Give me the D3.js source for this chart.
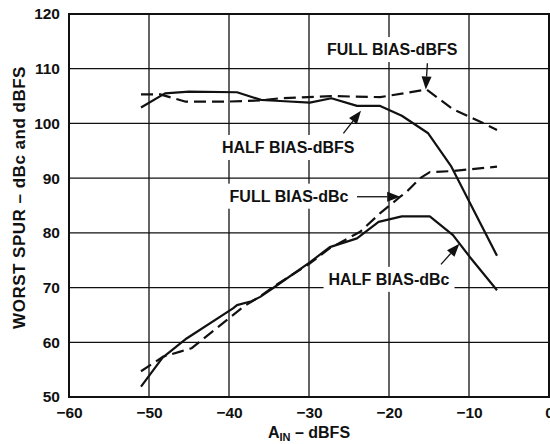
<!DOCTYPE html>
<html><head><meta charset="utf-8">
<script src="https://cdn.jsdelivr.net/npm/d3@7"></script>
<style>
html,body{margin:0;padding:0;background:#fff;}
svg{display:block;}
text{font-family:"Liberation Sans",Arial,Helvetica,sans-serif;font-weight:bold;fill:#111;}
</style></head>
<body>
<svg id="chart" width="550" height="444"></svg>
<script>
// ---- data ----
const xTicks = [-60, -50, -40, -30, -20, -10, 0];
const yTicks = [50, 60, 70, 80, 90, 100, 110, 120];

const halfBiasDbfsX = [-51, -48, -45, -39, -36, -33.6, -29.9, -27.2, -24, -21.1, -18.4, -15.1, -12.2, -6.5];
const halfBiasDbfsY = [102.9, 105.5, 105.8, 105.7, 104.3, 104.1, 103.8, 104.6, 103.2, 103.2, 101.4, 98.2, 92.1, 75.8];

const fullBiasDbfsX = [-51, -48.6, -45.5, -40, -36, -33.6, -27.2, -21.1, -15.3, -12, -9, -6.5];
const fullBiasDbfsY = [105.3, 105.3, 104.0, 104.0, 104.2, 104.6, 105.0, 104.8, 106.2, 102.6, 100.6, 98.8];

const fullBiasDbcX = [-51, -48.2, -46.1, -44.7, -38.2, -36.2, -34.5, -29.9, -27.4, -23.6, -21.1, -18.6, -17.8, -16.1, -14.9, -12, -6.5];
const fullBiasDbcY = [54.7, 57.4, 58.3, 58.9, 66.5, 68.3, 70.1, 74.4, 77.2, 80.2, 83.6, 86.6, 87.5, 90.0, 91.1, 91.3, 92.1];

const halfBiasDbcX = [-51, -48.3, -45.3, -39.5, -39, -37.2, -36.1, -34.3, -29.9, -27.4, -24, -21.3, -18.4, -14.9, -12, -9.9, -6.5];
const halfBiasDbcY = [51.9, 57.2, 60.7, 66.2, 66.8, 67.5, 68.3, 70.1, 74.6, 77.4, 79.0, 82.0, 83.0, 83.0, 79.6, 75.6, 69.5];

const labelTexts = ["FULL BIAS-dBFS", "HALF BIAS-dBFS", "FULL BIAS-dBc", "HALF BIAS-dBc"];
const labelX = [-19.6, -32.6, -32.5, -20];
const labelY = [112.5, 94.6, 85.7, 70.5];
const arrowFromX = [-15.2, -25.7, -24.0, -13.5];
const arrowFromY = [111.0, 98.2, 86.6, 74.25];
const arrowToX = [-15.4, -23.5, -18.6, -11.2];
const arrowToY = [106.2, 102.3, 86.6, 78.0];

// ---- layout ----
const W = 550, H = 444;
const m = {left: 69, right: 1, top: 14, bottom: 47};
const svg = d3.select("#chart");
const x = d3.scaleLinear().domain([-60, 0]).range([m.left, W - m.right]);
const y = d3.scaleLinear().domain([50, 120]).range([H - m.bottom, m.top]);

// grid
const g = svg.append("g");
g.selectAll("line.v").data(xTicks.slice(1, -1)).join("line")
  .attr("x1", d => x(d)).attr("x2", d => x(d))
  .attr("y1", y(50)).attr("y2", y(120))
  .attr("stroke", "#111").attr("stroke-width", 1.3);
g.selectAll("line.h").data(yTicks.slice(1, -1)).join("line")
  .attr("y1", d => y(d)).attr("y2", d => y(d))
  .attr("x1", x(-60)).attr("x2", x(0))
  .attr("stroke", "#111").attr("stroke-width", 1.3);

// axes (labels only)
const xAxis = d3.axisBottom(x).tickValues(xTicks).tickSize(0).tickPadding(10)
  .tickFormat(d => d < 0 ? "\u2212" + Math.abs(d) : d);
const xa = svg.append("g").attr("transform", `translate(0,${y(50)})`).call(xAxis);
xa.select(".domain").remove();
xa.selectAll("text").attr("font-size", 15.5).attr("fill", "#111").attr("font-family", null);

const yAxis = d3.axisLeft(y).tickValues(yTicks).tickSize(0).tickPadding(9);
const ya = svg.append("g").attr("transform", `translate(${x(-60)},0)`).call(yAxis);
ya.select(".domain").remove();
ya.selectAll("text").attr("font-size", 15.5).attr("fill", "#111").attr("font-family", null);

// label backgrounds + labels
const lab = svg.append("g");
labelTexts.forEach((t, i) => {
  const tx = lab.append("text").attr("x", x(labelX[i])).attr("y", y(labelY[i]))
    .attr("text-anchor", "middle").attr("font-size", 16).text(t);
  const bb = tx.node().getBBox();
  lab.insert("rect", "text").attr("x", bb.x - 5).attr("y", bb.y - 4)
    .attr("width", bb.width + 10).attr("height", bb.height + 8).attr("fill", "#fff");
});

// frame
svg.append("rect").attr("x", x(-60)).attr("y", y(120))
  .attr("width", x(0) - x(-60)).attr("height", y(50) - y(120))
  .attr("fill", "none").attr("stroke", "#111").attr("stroke-width", 2);

// curves
const line = d3.line().x(d => x(d[0])).y(d => y(d[1]));
function series(xs, ys) { return xs.map((v, i) => [v, ys[i]]); }
const curves = [
  {d: series(halfBiasDbfsX, halfBiasDbfsY), dash: null},
  {d: series(fullBiasDbfsX, fullBiasDbfsY), dash: "12,6"},
  {d: series(fullBiasDbcX, fullBiasDbcY), dash: "12,6"},
  {d: series(halfBiasDbcX, halfBiasDbcY), dash: null}
];
svg.append("g").selectAll("path").data(curves).join("path")
  .attr("d", c => line(c.d)).attr("fill", "none").attr("stroke", "#111")
  .attr("stroke-width", 2.2).attr("stroke-dasharray", c => c.dash)
  .attr("stroke-linejoin", "round");

// arrows
const ag = svg.append("g");
arrowToX.forEach((_, i) => {
  const x1 = x(arrowFromX[i]), y1 = y(arrowFromY[i]), x2 = x(arrowToX[i]), y2 = y(arrowToY[i]);
  const ang = Math.atan2(y2 - y1, x2 - x1);
  const L = 13, hw = 5;
  const bx = x2 - L * Math.cos(ang), by = y2 - L * Math.sin(ang);
  ag.append("line").attr("x1", x1).attr("y1", y1).attr("x2", bx).attr("y2", by)
    .attr("stroke", "#111").attr("stroke-width", 1.3);
  const px = -Math.sin(ang) * hw, py = Math.cos(ang) * hw;
  ag.append("path").attr("d", `M${x2},${y2}L${bx + px},${by + py}L${bx - px},${by - py}Z`).attr("fill", "#111");
});

// axis titles
const xt = svg.append("text").attr("x", (x(-60) + x(0)) / 2).attr("y", 438)
  .attr("text-anchor", "middle").attr("font-size", 16);
xt.append("tspan").text("A");
xt.append("tspan").attr("font-size", 11).attr("dy", 3).text("IN");
xt.append("tspan").attr("dy", -3).text(" \u2013 dBFS");

svg.append("text").attr("transform", `translate(25,${(y(50) + y(120)) / 2 - 8}) rotate(-90)`)
  .attr("text-anchor", "middle").attr("font-size", 17).attr("letter-spacing", 0.5)
  .text("WORST SPUR \u2013 dBc and dBFS");
</script>
</body></html>
